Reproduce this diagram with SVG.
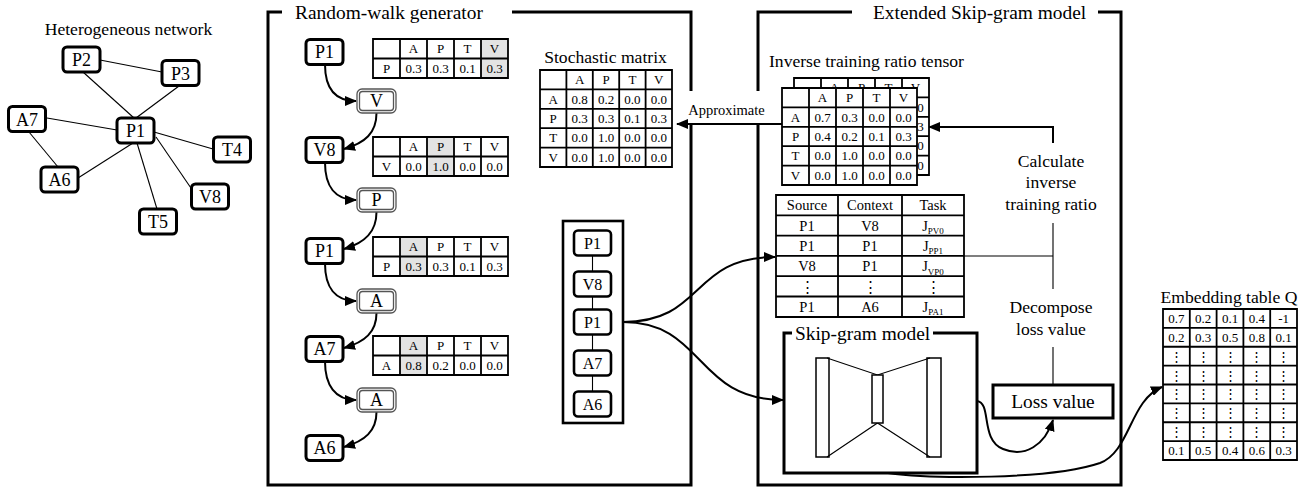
<svg xmlns="http://www.w3.org/2000/svg" width="1312" height="487" viewBox="0 0 1312 487" font-family="'Liberation Serif', 'DejaVu Serif', serif">
<defs>
<marker id="ah" markerUnits="userSpaceOnUse" markerWidth="12" markerHeight="10" refX="11" refY="5" orient="auto"><path d="M0,0 L12,5 L0,10 z" fill="#000"/></marker>
</defs>
<style>
text{font-family:'Liberation Serif','DejaVu Serif',serif;fill:#000}
.ti{font-size:19.4px}
.st{font-size:17.6px}
.c{text-anchor:middle}
.nd rect{fill:#fff;stroke:#000;stroke-width:3}
.nd text{font-size:18px;text-anchor:middle}
.mc rect{fill:#fff;stroke:#000;stroke-width:2.6}
.mc text{font-size:16px;text-anchor:middle}
.dn .o{fill:#fff;stroke:#555;stroke-width:1.3}
.dn .i{fill:none;stroke:#555;stroke-width:1.3}
.dn text{font-size:18px;text-anchor:middle}
.tb text{font-size:13px;text-anchor:middle}
.sr text{font-size:14.5px;text-anchor:middle}
.bg{fill:#fff}
.gl{stroke:#000;stroke-width:1.8;fill:none}
.fr{stroke:#000;stroke-width:3;fill:none}
.e{stroke:#000;stroke-width:1.1;fill:none}
.a{stroke:#000;stroke-width:2;fill:none;marker-end:url(#ah)}
.hl{fill:#e3e3e3}
.sg{fill:#fff;stroke:#000;stroke-width:1.5}
</style>

<!-- frames -->
<g id="frame-random-walk">
<path class="fr" d="M282,12H268V485H691V12H512"/>
<text class="ti" x="295" y="18.5">Random-walk generator</text>
</g>
<g id="frame-extended">
<path class="fr" d="M852,12H758V485H1121V12H1098"/>
<text class="ti" x="873" y="18.5">Extended Skip-gram model</text>
</g>

<!-- network title -->
<text class="st c" x="128.5" y="34.5">Heterogeneous network</text>

<!-- connectors -->
<g id="connectors">
<g id="net-edges">
<path class="e" d="M100,60L162,72"/>
<path class="e" d="M83,72L134,118"/>
<path class="e" d="M179,86L136,118"/>
<path class="e" d="M47,118L117,130"/>
<path class="e" d="M29,132L58,167"/>
<path class="e" d="M133,143L78,178"/>
<path class="e" d="M154,132L213,149"/>
<path class="e" d="M137,143L157,209"/>
<path class="e" d="M156,137L193,191"/>
</g>
<g id="walk-arrows">
<path class="a" d="M325,64.5C325,88 335,101 356,101"/>
<path class="a" d="M376.5,113C376.5,133 365,143 344,149"/>
<path class="a" d="M325,162.5C325,186 335,200 356,200"/>
<path class="a" d="M376.5,212C376.5,232 365,243 344,249"/>
<path class="a" d="M325,263.5C325,287 335,301 356,301"/>
<path class="a" d="M376.5,313C376.5,332 365,342 344,348"/>
<path class="a" d="M325,361.5C325,385 335,400 356,400"/>
<path class="a" d="M376.5,412C376.5,431 365,441 344,447"/>
</g>
<path class="e" d="M592.5,250V400" stroke-width="1.5"/>
<path class="a" d="M623,322C705,322 690,257 775,257"/>
<path class="a" d="M623,322C705,322 695,400 783,400"/>
<path class="a" d="M977,401C992,403 980,440 1003,449C1025,458 1045,445 1053,420"/>
<path class="a" d="M888,473C930,479 1050,480 1100,463C1130,452 1130,400 1162,387"/>
<path class="e" stroke-width="1.5" d="M964,256H1053 M1053,223V289 M1053,347V385"/>
<path class="a" d="M1053,143V127H929"/>
</g>

<!-- approximate label -->
<g id="approx">
<rect x="684" y="91" width="86" height="33" fill="#fff"/>
<text x="726.5" y="114.5" class="c" style="font-size:14.5px">Approximate</text>
<path class="a" d="M782,124H677"/>
</g>

<!-- heterogeneous network nodes -->
<g id="net-P2" class="nd"><rect x="63" y="47" width="37" height="25" rx="4"/><text x="81.5" y="66">P2</text></g>
<g id="net-P3" class="nd"><rect x="162" y="60.5" width="37" height="25" rx="4"/><text x="180.5" y="79.5">P3</text></g>
<g id="net-A7" class="nd"><rect x="8.5" y="106.5" width="37" height="25" rx="4"/><text x="27" y="125.5">A7</text></g>
<g id="net-P1" class="nd"><rect x="117" y="118" width="37" height="25" rx="4"/><text x="135.5" y="137">P1</text></g>
<g id="net-T4" class="nd"><rect x="213.5" y="137" width="37" height="25" rx="4"/><text x="232" y="156">T4</text></g>
<g id="net-A6" class="nd"><rect x="41" y="167" width="37" height="25" rx="4"/><text x="59.5" y="186">A6</text></g>
<g id="net-V8" class="nd"><rect x="191.5" y="184" width="37" height="25" rx="4"/><text x="210" y="203">V8</text></g>
<g id="net-T5" class="nd"><rect x="139.5" y="209" width="37" height="25" rx="4"/><text x="158" y="228">T5</text></g>

<!-- random walk chain -->
<g id="walk-P1a" class="nd"><rect x="306" y="39.5" width="37" height="25" rx="4"/><text x="324.5" y="58">P1</text></g>
<g id="walk-V" class="dn"><rect class="o" x="357" y="89" width="39" height="24" rx="5"/><rect class="i" x="359.5" y="91.5" width="34" height="19" rx="3"/><text x="376.5" y="107">V</text></g>
<g id="walk-V8" class="nd"><rect x="306" y="137.5" width="37" height="25" rx="4"/><text x="324.5" y="156">V8</text></g>
<g id="walk-P" class="dn"><rect class="o" x="357" y="188" width="39" height="24" rx="5"/><rect class="i" x="359.5" y="190.5" width="34" height="19" rx="3"/><text x="376.5" y="206">P</text></g>
<g id="walk-P1b" class="nd"><rect x="306" y="238.5" width="37" height="25" rx="4"/><text x="324.5" y="257">P1</text></g>
<g id="walk-A1" class="dn"><rect class="o" x="357" y="289" width="39" height="24" rx="5"/><rect class="i" x="359.5" y="291.5" width="34" height="19" rx="3"/><text x="376.5" y="307">A</text></g>
<g id="walk-A7" class="nd"><rect x="306" y="336.5" width="37" height="25" rx="4"/><text x="324.5" y="355">A7</text></g>
<g id="walk-A2" class="dn"><rect class="o" x="357" y="388" width="39" height="24" rx="5"/><rect class="i" x="359.5" y="390.5" width="34" height="19" rx="3"/><text x="376.5" y="406">A</text></g>
<g id="walk-A6" class="nd"><rect x="306" y="435.5" width="37" height="25" rx="4"/><text x="324.5" y="454">A6</text></g>

<!-- walk tables -->
<g id="wt1" class="tb" transform="translate(373,39)">
<rect class="bg" width="135" height="39"/><rect class="hl" x="108" width="27" height="39"/>
<path class="gl" d="M0,0H135V39H0Z M27,0V39 M54,0V39 M81,0V39 M108,0V39 M0,19.5H135"/>
<text x="40.5" y="14.3">A</text><text x="67.5" y="14.3">P</text><text x="94.5" y="14.3">T</text><text x="121.5" y="14.3">V</text>
<text x="13.5" y="33.8">P</text><text x="40.5" y="33.8">0.3</text><text x="67.5" y="33.8">0.3</text><text x="94.5" y="33.8">0.1</text><text x="121.5" y="33.8">0.3</text>
</g>
<g id="wt2" class="tb" transform="translate(373,137)">
<rect class="bg" width="135" height="39"/><rect class="hl" x="54" width="27" height="39"/>
<path class="gl" d="M0,0H135V39H0Z M27,0V39 M54,0V39 M81,0V39 M108,0V39 M0,19.5H135"/>
<text x="40.5" y="14.3">A</text><text x="67.5" y="14.3">P</text><text x="94.5" y="14.3">T</text><text x="121.5" y="14.3">V</text>
<text x="13.5" y="33.8">V</text><text x="40.5" y="33.8">0.0</text><text x="67.5" y="33.8">1.0</text><text x="94.5" y="33.8">0.0</text><text x="121.5" y="33.8">0.0</text>
</g>
<g id="wt3" class="tb" transform="translate(373,237)">
<rect class="bg" width="135" height="39"/><rect class="hl" x="27" width="27" height="39"/>
<path class="gl" d="M0,0H135V39H0Z M27,0V39 M54,0V39 M81,0V39 M108,0V39 M0,19.5H135"/>
<text x="40.5" y="14.3">A</text><text x="67.5" y="14.3">P</text><text x="94.5" y="14.3">T</text><text x="121.5" y="14.3">V</text>
<text x="13.5" y="33.8">P</text><text x="40.5" y="33.8">0.3</text><text x="67.5" y="33.8">0.3</text><text x="94.5" y="33.8">0.1</text><text x="121.5" y="33.8">0.3</text>
</g>
<g id="wt4" class="tb" transform="translate(373,336)">
<rect class="bg" width="135" height="39"/><rect class="hl" x="27" width="27" height="39"/>
<path class="gl" d="M0,0H135V39H0Z M27,0V39 M54,0V39 M81,0V39 M108,0V39 M0,19.5H135"/>
<text x="40.5" y="14.3">A</text><text x="67.5" y="14.3">P</text><text x="94.5" y="14.3">T</text><text x="121.5" y="14.3">V</text>
<text x="13.5" y="33.8">A</text><text x="40.5" y="33.8">0.8</text><text x="67.5" y="33.8">0.2</text><text x="94.5" y="33.8">0.0</text><text x="121.5" y="33.8">0.0</text>
</g>

<!-- stochastic matrix -->
<g id="stochastic-matrix">
<text class="st c" x="605.5" y="63">Stochastic matrix</text>
<g class="tb" transform="translate(540,70)">
<rect class="bg" width="132" height="97"/>
<path class="gl" d="M0,0H132V97H0Z M26.4,0V97 M52.8,0V97 M79.2,0V97 M105.6,0V97 M0,19.4H132 M0,38.8H132 M0,58.2H132 M0,77.6H132"/>
<text x="39.6" y="14.2">A</text><text x="66" y="14.2">P</text><text x="92.4" y="14.2">T</text><text x="118.8" y="14.2">V</text>
<text x="13.2" y="33.6">A</text><text x="39.6" y="33.6">0.8</text><text x="66" y="33.6">0.2</text><text x="92.4" y="33.6">0.0</text><text x="118.8" y="33.6">0.0</text>
<text x="13.2" y="53">P</text><text x="39.6" y="53">0.3</text><text x="66" y="53">0.3</text><text x="92.4" y="53">0.1</text><text x="118.8" y="53">0.3</text>
<text x="13.2" y="72.4">T</text><text x="39.6" y="72.4">0.0</text><text x="66" y="72.4">1.0</text><text x="92.4" y="72.4">0.0</text><text x="118.8" y="72.4">0.0</text>
<text x="13.2" y="91.8">V</text><text x="39.6" y="91.8">0.0</text><text x="66" y="91.8">1.0</text><text x="92.4" y="91.8">0.0</text><text x="118.8" y="91.8">0.0</text>
</g>
</g>

<!-- inverse training ratio tensor -->
<g id="inverse-tensor">
<text class="st" x="769" y="66.5">Inverse training ratio tensor</text>
<g class="tb" transform="translate(794,78)">
<rect class="bg" width="135" height="97"/>
<path class="gl" d="M0,0H135V97H0Z M27,0V97 M54,0V97 M81,0V97 M108,0V97 M0,19.4H135 M0,38.8H135 M0,58.2H135 M0,77.6H135"/>
<text x="40.5" y="14.2">A</text><text x="67.5" y="14.2">P</text><text x="94.5" y="14.2">T</text><text x="121.5" y="14.2">V</text>
<text x="121.5" y="33.6">0.0</text><text x="121.5" y="53">0.3</text><text x="121.5" y="72.4">0.0</text><text x="121.5" y="91.8">0.0</text>
</g>
<g class="tb" transform="translate(782,88)">
<rect class="bg" width="135" height="97"/>
<path class="gl" d="M0,0H135V97H0Z M27,0V97 M54,0V97 M81,0V97 M108,0V97 M0,19.4H135 M0,38.8H135 M0,58.2H135 M0,77.6H135"/>
<text x="40.5" y="14.2">A</text><text x="67.5" y="14.2">P</text><text x="94.5" y="14.2">T</text><text x="121.5" y="14.2">V</text>
<text x="13.5" y="33.6">A</text><text x="40.5" y="33.6">0.7</text><text x="67.5" y="33.6">0.3</text><text x="94.5" y="33.6">0.0</text><text x="121.5" y="33.6">0.0</text>
<text x="13.5" y="53">P</text><text x="40.5" y="53">0.4</text><text x="67.5" y="53">0.2</text><text x="94.5" y="53">0.1</text><text x="121.5" y="53">0.3</text>
<text x="13.5" y="72.4">T</text><text x="40.5" y="72.4">0.0</text><text x="67.5" y="72.4">1.0</text><text x="94.5" y="72.4">0.0</text><text x="121.5" y="72.4">0.0</text>
<text x="13.5" y="91.8">V</text><text x="40.5" y="91.8">0.0</text><text x="67.5" y="91.8">1.0</text><text x="94.5" y="91.8">0.0</text><text x="121.5" y="91.8">0.0</text>
</g>
</g>

<!-- source/context table -->
<g id="pair-table" class="sr" transform="translate(776,195)">
<rect class="bg" width="188" height="122"/>
<path class="gl" d="M0,0H188V122H0Z M62,0V122 M126,0V122 M0,20.3H188 M0,40.6H188 M0,60.9H188 M0,81.2H188 M0,101.5H188"/>
<text x="31" y="15.2">Source</text><text x="94" y="15.2">Context</text><text x="157" y="15.2">Task</text>
<text x="31" y="35.5">P1</text><text x="94" y="35.5">V8</text><text x="157" y="35.5">J<tspan font-size="9" dy="3.5">PV0</tspan></text>
<text x="31" y="55.8">P1</text><text x="94" y="55.8">P1</text><text x="157" y="55.8">J<tspan font-size="9" dy="3.5">PP1</tspan></text>
<text x="31" y="76.2">V8</text><text x="94" y="76.2">P1</text><text x="157" y="76.2">J<tspan font-size="9" dy="3.5">VP0</tspan></text>
<text x="31" y="96.5">⋮</text><text x="94" y="96.5">⋮</text><text x="157" y="96.5">⋮</text>
<text x="31" y="116.8">P1</text><text x="94" y="116.8">A6</text><text x="157" y="116.8">J<tspan font-size="9" dy="3.5">PA1</tspan></text>
</g>

<!-- middle walk sequence -->
<g id="walk-sequence" class="mc">
<rect x="563" y="221" width="60" height="202" style="fill:none"/>
<rect x="574" y="230.5" width="37" height="25" rx="4"/><text x="592.5" y="248.5">P1</text>
<rect x="574" y="271.5" width="37" height="25" rx="4"/><text x="592.5" y="289.5">V8</text>
<rect x="574" y="309.5" width="37" height="25" rx="4"/><text x="592.5" y="327.5">P1</text>
<rect x="574" y="350.5" width="37" height="25" rx="4"/><text x="592.5" y="368.5">A7</text>
<rect x="574" y="391.5" width="37" height="25" rx="4"/><text x="592.5" y="409.5">A6</text>
</g>

<!-- skip-gram model -->
<g id="skipgram">
<path class="fr" d="M792,333H784V473H977V333H933"/>
<text class="ti" x="795" y="339.5">Skip-gram model</text>
<rect class="sg" x="816" y="358" width="13" height="99"/>
<rect class="sg" x="927" y="358" width="14" height="99"/>
<path class="e" stroke-width="2" d="M827,358L877.5,375L930,358 M827,457L877.5,423L930,457"/>
<rect class="sg" x="872" y="375" width="11" height="48"/>
</g>

<!-- side labels -->
<g id="calc-label">
<text class="st c" x="1051" y="166.7">Calculate</text>
<text class="st c" x="1051" y="188">inverse</text>
<text class="st c" x="1051" y="209.5">training ratio</text>
</g>
<g id="decompose-label">
<text class="st c" x="1051" y="313.3">Decompose</text>
<text class="st c" x="1051" y="335">loss value</text>
</g>
<g id="loss-value">
<rect x="993" y="385" width="120" height="33" fill="#fff" stroke="#000" stroke-width="3"/>
<text class="ti c" x="1053" y="408">Loss value</text>
</g>

<!-- embedding table -->
<g id="embedding-table">
<text class="st c" x="1229" y="303">Embedding table Q</text>
<g class="tb" transform="translate(1163,309)">
<rect class="bg" width="134" height="151"/>
<path class="gl" d="M0,0H134V151H0Z M26.8,0V151 M53.6,0V151 M80.4,0V151 M107.2,0V151 M0,18.875H134 M0,37.75H134 M0,56.625H134 M0,75.5H134 M0,94.375H134 M0,113.25H134 M0,132.125H134"/>
<text x="13.4" y="13.9">0.7</text><text x="40.2" y="13.9">0.2</text><text x="67" y="13.9">0.1</text><text x="93.8" y="13.9">0.4</text><text x="120.6" y="13.9">-1</text>
<text x="13.4" y="32.8">0.2</text><text x="40.2" y="32.8">0.3</text><text x="67" y="32.8">0.5</text><text x="93.8" y="32.8">0.8</text><text x="120.6" y="32.8">0.1</text>
<text x="13.4" y="51.7">⋮</text><text x="40.2" y="51.7">⋮</text><text x="67" y="51.7">⋮</text><text x="93.8" y="51.7">⋮</text><text x="120.6" y="51.7">⋮</text>
<text x="13.4" y="70.6">⋮</text><text x="40.2" y="70.6">⋮</text><text x="67" y="70.6">⋮</text><text x="93.8" y="70.6">⋮</text><text x="120.6" y="70.6">⋮</text>
<text x="13.4" y="89.4">⋮</text><text x="40.2" y="89.4">⋮</text><text x="67" y="89.4">⋮</text><text x="93.8" y="89.4">⋮</text><text x="120.6" y="89.4">⋮</text>
<text x="13.4" y="108.3">⋮</text><text x="40.2" y="108.3">⋮</text><text x="67" y="108.3">⋮</text><text x="93.8" y="108.3">⋮</text><text x="120.6" y="108.3">⋮</text>
<text x="13.4" y="127.2">⋮</text><text x="40.2" y="127.2">⋮</text><text x="67" y="127.2">⋮</text><text x="93.8" y="127.2">⋮</text><text x="120.6" y="127.2">⋮</text>
<text x="13.4" y="146.1">0.1</text><text x="40.2" y="146.1">0.5</text><text x="67" y="146.1">0.4</text><text x="93.8" y="146.1">0.6</text><text x="120.6" y="146.1">0.3</text>
</g>
</g>
</svg>
